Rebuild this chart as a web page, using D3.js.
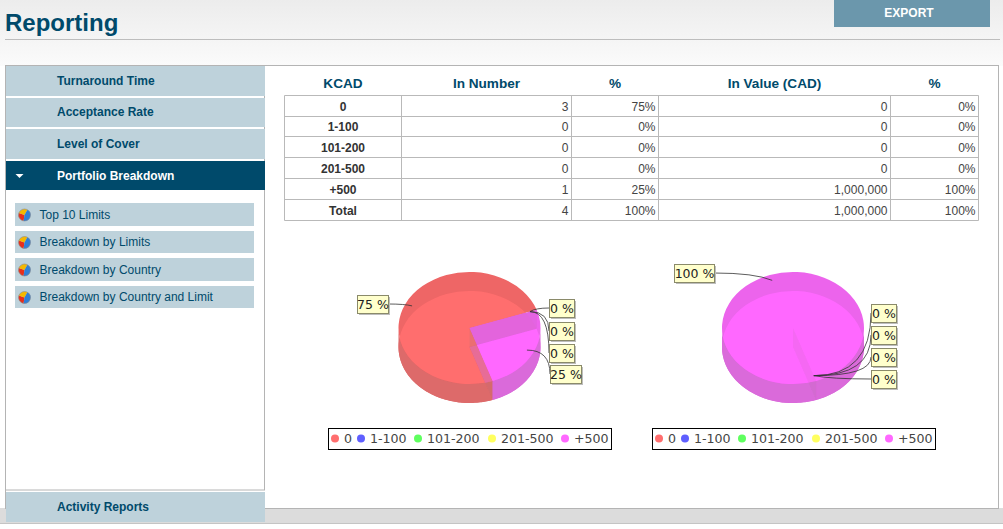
<!DOCTYPE html>
<html><head><meta charset="utf-8">
<script src="https://cdn.jsdelivr.net/npm/d3@7"></script>
<style>html,body{margin:0;padding:0;background:#fff;overflow:hidden}svg{display:block}</style>
</head><body><svg id="c" width="1003" height="529"></svg>
<script>
// ---- data ----
const bands = ["0","1-100","101-200","201-500","+500"];
const inNumber = [3,0,0,0,1];
const inValue = [0,0,0,0,1000000];
const numberPct = [75,0,0,0,25];
const valuePct = [0,0,0,0,100];
const menuTop = ["Turnaround Time","Acceptance Rate","Level of Cover","Portfolio Breakdown"];
const menuSub = ["Top 10 Limits","Breakdown by Limits","Breakdown by Country","Breakdown by Country and Limit"];
const menuBottom = ["Activity Reports"];
const tableHeads = ["KCAD","In Number","%","In Value (CAD)","%"];

// ---- styles / layout ----
const SANS = "'Liberation Sans',Arial,sans-serif", VERA = "'DejaVu Sans',sans-serif";
const NAVY = "#004a6b", PALE = "#bed2db";
const lightCol = ["#ff6e6e","#5f5fff","#5fff5f","#ffff5f","#ff68ff"];
const topCol   = ["#ee6666","#5a5aee","#5aee5a","#eeee5a","#ec64ec"];
const sideCol  = ["#dd6a6a","#5f5fdd","#5fdd5f","#dddd5f","#da6ada"];
const lidBlend = [.4,.4,.4,.4,.05];
const svg = d3.select("#c");
const defs = svg.append("defs");
const g0 = defs.append("linearGradient").attr("id","hdr").attr("x1",0).attr("x2",0).attr("y1",0).attr("y2",1);
g0.append("stop").attr("offset",0).attr("stop-color","#ececec");
g0.append("stop").attr("offset",1).attr("stop-color","#fbfbfb");

function rect(p,x,y,w,h,f,s){return p.append("rect").attr("x",x).attr("y",y).attr("width",w).attr("height",h).attr("fill",f).attr("stroke",s||"none");}
function text(p,x,y,t,size,fill,opt={}){return p.append("text").attr("x",x).attr("y",y).text(t)
  .attr("font-family",opt.fam||SANS).attr("font-size",size).attr("fill",fill)
  .attr("font-weight",opt.w||"normal").attr("text-anchor",opt.a||"start");}

// page chrome
rect(svg,0,0,1003,66,"url(#hdr)");
text(svg,5,31,"Reporting",24,NAVY,{w:"bold"});
svg.append("line").attr("x1",5).attr("x2",1000).attr("y1",39.5).attr("y2",39.5).attr("stroke","#bdbdbd");
rect(svg,834,0,156,27,"#6b97ac");
text(svg,909,17,"EXPORT",12,"#fff",{w:"bold",a:"middle"});
rect(svg,0,508,1003,15,"#dcdcdc");
svg.append("line").attr("x1",0).attr("x2",1003).attr("y1",523.5).attr("y2",523.5).attr("stroke","#c4c4c4");
rect(svg,5.5,65.5,993,443,"#fff","#b4b4b4");
rect(svg,5.5,65.5,259,424.5,"#fff","#b4b4b4");

// sidebar
const topRows=[[66,30],[98,29],[129,30],[161,29]];
menuTop.forEach((m,i)=>{
  const [y,h]=topRows[i], on=i===3;
  rect(svg,6,y,259,h,on?NAVY:PALE);
  text(svg,57,y+h/2+(on?4.5:3.5),m,12,on?"#fff":NAVY,{w:"bold"});
});
svg.append("path").attr("d","M15.5 174 L23.5 174 L19.5 178 Z").attr("fill","#fff");
const subY=[[203,23],[231,22],[258,23],[286,22]];
const iconShares=[1,1,1.6];
const iconPie=d3.pie().sort(null).startAngle(-Math.PI*0.95).endAngle(Math.PI*1.05)(iconShares);
const iconCols=["#e8301c","#f5b800","#2f7fd8"];
menuSub.forEach((m,i)=>{
  const [y,h]=subY[i];
  rect(svg,15,y,239,h,PALE);
  text(svg,39.5,y+h/2+4,m,12,NAVY);
  const ic=svg.append("g").attr("transform",`translate(24.5,${y+h/2+0.5})`);
  ic.selectAll("path").data(iconPie).join("path").attr("d",d3.arc().innerRadius(0).outerRadius(6)).attr("fill",(d,k)=>iconCols[k]);
  ic.append("circle").attr("r",6).attr("fill","none").attr("stroke","#8a8a8a").attr("stroke-width",.6);
});
menuBottom.forEach(m=>{
  rect(svg,6,492,259,30,PALE);
  text(svg,57,511,m,12,NAVY,{w:"bold"});
});

// table
const colX=[284.5,401.5,571.5,658.5,890.5,978.5];
const rowY=[95.5,116.5,136.5,157.5,178.5,199.5,220.5];
rect(svg,284,72,694,24,"#fff");
const fmt=d3.format(",");
const rows=bands.map((b,i)=>[b,inNumber[i],numberPct[i]+"%",fmt(inValue[i]),valuePct[i]+"%"]);
rows.push(["Total",d3.sum(inNumber),d3.sum(numberPct)+"%",fmt(d3.sum(inValue)),d3.sum(valuePct)+"%"]);
tableHeads.forEach((h,i)=>text(svg,(colX[i]+colX[i+1])/2,88,h,13.6,NAVY,{w:"bold",a:"middle"}));
rows.forEach((r,j)=>{
  r.forEach((v,i)=>{
    const y=(rowY[j]+rowY[j+1])/2+4.5;
    if(i===0) text(svg,(colX[0]+colX[1])/2,y,v,12,"#333",{w:"bold",a:"middle"});
    else text(svg,colX[i+1]-3,y,v,12,"#444",{a:"end"});
  });
});
rowY.forEach(y=>svg.append("line").attr("x1",colX[0]).attr("x2",colX[5]).attr("y1",y).attr("y2",y).attr("stroke","#b9b9b9"));
colX.forEach(x=>svg.append("line").attr("x1",x).attr("x2",x).attr("y1",rowY[0]).attr("y2",rowY[6]).attr("stroke","#b9b9b9"));

// 3D pies
const START = 161*Math.PI/180, RX=71, RY=56, DEPTH=19;
function pie3d(id,cx,values,boxes,legendX){
  const g=svg.append("g");
  const total=d3.sum(values);
  const arcs=d3.pie().sort(null).startAngle(START).endAngle(START+2*Math.PI)(values);
  const arc=d3.arc().innerRadius(0).outerRadius(RX);
  const anchor=d3.arc().innerRadius(RX*.9).outerRadius(RX*.9);
  const k=RY/RX, cyT=328, cyB=cyT+DEPTH;
  const live=arcs.filter(a=>a.value>0);
  // floor
  g.append("g").attr("transform",`translate(${cx},${cyB}) scale(1,${k})`)
   .selectAll("path").data(live).join("path").attr("d",arc).attr("fill",d=>sideCol[d.index]);
  // outer wall
  const wall=d3.area().x(t=>cx+RX*Math.sin(t)).y0(t=>cyT-RY*Math.cos(t)).y1(t=>cyT+DEPTH-RY*Math.cos(t));
  live.forEach(a=>{
    [0,2*Math.PI].forEach(off=>{
      const lo=Math.max(a.startAngle,Math.PI/2+off), hi=Math.min(a.endAngle,1.5*Math.PI+off);
      if(hi>lo){
        const ts=d3.range(lo,hi,0.02).concat([hi]);
        g.append("path").attr("d",wall(ts)).attr("fill",sideCol[a.index]);
      }
    });
  });
  // lid
  g.append("g").attr("transform",`translate(${cx},${cyT}) scale(1,${k})`)
   .selectAll("path").data(live).join("path").attr("d",arc).attr("fill",d=>topCol[d.index]);
  // where lid and floor overlap, colours show through each other
  live.forEach((f,j)=>{
    const cid=id+"f"+j;
    defs.append("clipPath").attr("id",cid).append("path")
      .attr("transform",`translate(${cx},${cyB}) scale(1,${k})`).attr("d",arc(f));
    g.append("g").attr("clip-path",`url(#${cid})`).append("g")
      .attr("transform",`translate(${cx},${cyT}) scale(1,${k})`)
      .selectAll("path").data(live).join("path").attr("d",arc)
      .attr("fill",d=>d.index===f.index?lightCol[d.index]:d3.interpolateRgb(d.index===4?topCol[d.index]:lightCol[d.index],sideCol[f.index])(lidBlend[d.index]));
  });
  // radial inner walls seen through the glass
  const radial=d3.area().x(p=>p[0]).y0(p=>p[1]).y1(p=>p[1]+DEPTH);
  live.forEach(a=>{
    [a.startAngle,a.endAngle].forEach(t=>{
      const pts=[[cx,cyT],[cx+RX*Math.sin(t),cyT-RY*Math.cos(t)]];
      g.append("path").attr("d",radial(pts)).attr("fill","#a07a90").attr("fill-opacity",.05);
    });
  });
  // labels + leaders
  arcs.forEach((a,i)=>{
    const c=anchor.centroid(a);
    const ax=cx+c[0], ay=cyT+c[1]*k;
    const b=boxes[i];
    const bx=ax>b[0]+b[2]?b[0]+b[2]:b[0], by=b[1]+b[3]/2;
    const p=d3.path(); p.moveTo(bx,by);
    if(Math.abs(by-ay)<12) p.quadraticCurveTo(bx+(ax-bx)*.7,by,ax,ay);
    else p.quadraticCurveTo(bx,ay,ax,ay);
    g.append("path").attr("d",p.toString()).attr("fill","none").attr("stroke","#333").attr("stroke-width",.8);
  });
  arcs.forEach((a,i)=>{
    const b=boxes[i];
    rect(g,b[0]+2,b[1]+2,b[2],b[3],"#bdbdbd");
    rect(g,b[0]+.5,b[1]+.5,b[2],b[3],"#ffffcc","#8a8a6a");
    text(g,b[0]+b[2]/2+.5,b[1]+b[3]/2+5,Math.round(a.value/total*100)+" %",12.5,"#222",{fam:VERA,a:"middle"});
  });
  // legend
  rect(g,legendX+.5,428.5,283,21,"#fff","#000");
  const offs=[7,33,90,164,237];
  bands.forEach((s,i)=>{
    const x=legendX+offs[i];
    g.append("circle").attr("cx",x).attr("cy",438.5).attr("r",4).attr("fill",lightCol[i]);
    text(g,x+9,443,s,12.6,"#444",{fam:VERA});
  });
}
pie3d("pc1",469.5,numberPct,[[357,295,31,18],[549,299,25,18],[549,322,25,18],[549,344,25,18],[550,365,31,18]],328);
pie3d("pc2",793,valuePct,[[871,304,25,18],[871,326,25,18],[871,348,25,18],[871,370,25,18],[674,264,40,18]],652);
</script></body></html>
